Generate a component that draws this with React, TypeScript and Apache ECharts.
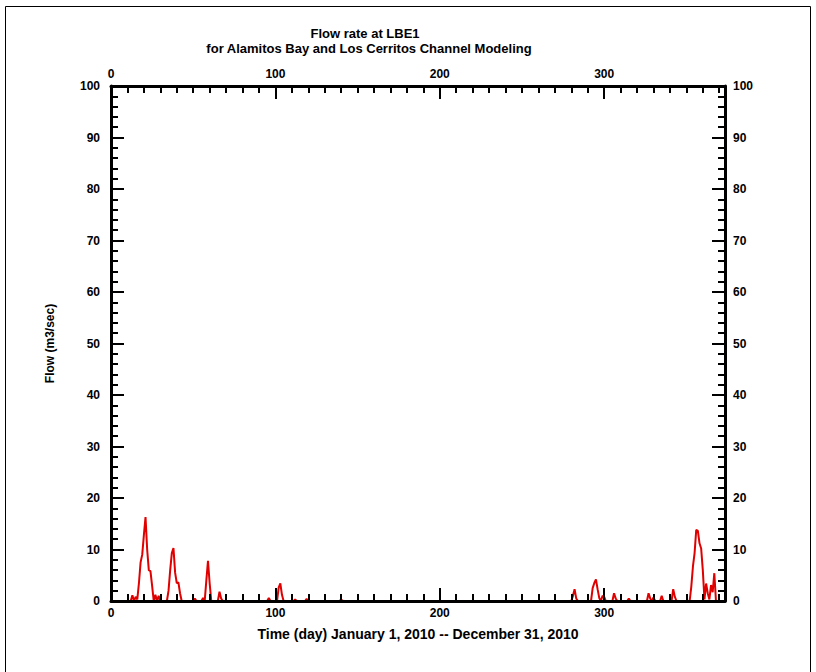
import React, { useEffect, useRef } from 'react';
import * as echarts from 'echarts';

const titleLines = ['Flow rate at LBE1', 'for Alamitos Bay and Los Cerritos Channel Modeling'];
const xAxisName = 'Time (day) January 1, 2010 -- December 31, 2010';
const yAxisName = 'Flow (m3/sec)';

// Daily flow (m3/sec); days not listed are at zero flow
const flowDays = [
  0, 12, 13, 14, 15, 16, 17, 18, 19, 20, 21, 22, 23, 24, 25, 26, 27, 28, 29, 30,
  34, 35, 36, 37, 38, 39, 40, 41, 42, 43,
  50, 51, 52, 55, 56, 57, 58, 59, 60, 61, 65, 66, 67, 68,
  95, 96, 97, 101, 102, 103, 104, 105, 111, 112, 113, 118, 119, 120, 139, 140, 141,
  280, 281, 282, 283, 284, 292, 293, 294, 295, 296, 297, 298, 299, 300, 301,
  305, 306, 307, 308, 314, 315, 316, 326, 327, 328, 329, 330, 331, 334, 335, 336,
  341, 342, 343, 344,
  352, 353, 354, 355, 356, 357, 358, 359, 360, 361, 362, 363, 364, 365, 366, 367, 368,
];
const flowValues = [
  0, 0, 1.1, 0, 0.8, 0.3, 3.5, 7.5, 9.0, 12.8, 16.3, 10.0, 6.0, 5.8, 3.0, 0, 1.2, 0, 1.0, 0,
  0, 2.0, 6.0, 9.3, 10.3, 5.5, 3.5, 3.6, 1.5, 0,
  0, 0.5, 0, 0, 0.6, 0, 4.0, 7.8, 3.5, 0, 0, 1.8, 0.5, 0,
  0, 0.6, 0, 0, 2.6, 3.4, 1.2, 0, 0, 0.3, 0, 0, 0.4, 0, 0, 0.3, 0,
  0, 1.0, 2.3, 0.5, 0, 0, 2.5, 3.5, 4.2, 2.3, 0.6, 0, 1.0, 0.8, 0,
  0, 1.5, 0.5, 0, 0, 0.5, 0, 0, 1.5, 0.5, 0, 0.7, 0, 0, 1.0, 0,
  0, 2.3, 0.8, 0,
  0, 2.8, 6.7, 9.3, 13.8, 13.6, 11.2, 10.2, 6.0, 0.3, 3.4, 1.5, 0.3, 3.1, 1.7, 5.4, 0,
];

const xMin = 0;
const xMax = 373.5;
const xMajor = 100;
const xMinor = 10;
const yMin = 0;
const yMax = 100;
const yMajor = 10;

const FONT = "'Liberation Sans', Arial, sans-serif";

export default function App() {
  const ref = useRef<HTMLDivElement>(null);

  useEffect(() => {
    document.body.style.margin = '0';
    if (!ref.current) return;
    const chart = echarts.init(ref.current, undefined, { renderer: 'svg' });

    const labelStyle = {
      color: '#000',
      fontFamily: FONT,
      fontWeight: 'bold' as const,
      fontSize: 12,
    };
    const axisLine = { show: true, onZero: false, lineStyle: { color: '#000', width: 3 } };
    const majorTick = { show: true, inside: true, length: 13, lineStyle: { color: '#000', width: 2 } };
    const minorTickX = { show: true, inside: true, length: 7, lineStyle: { color: '#000', width: 2 } };
    const xFmt = (v: number) => (v % xMajor === 0 ? String(v) : '');

    const xBase = { type: 'value', min: xMin, max: xMax, splitLine: { show: false } };

    chart.setOption({
      animation: false,
      backgroundColor: '#fff',
      grid: { left: 111, top: 86, right: 91, bottom: 71, outerBoundsMode: 'none', containLabel: false },
      graphic: [
        {
          type: 'rect',
          shape: { x: 5.5, y: 6.5, width: 805, height: 720 },
          style: { fill: 'none', stroke: '#000', lineWidth: 1 },
          silent: true,
        },
        {
          type: 'text',
          x: 365,
          y: 33,
          style: { text: titleLines[0], fill: '#000', font: `bold 13px ${FONT}`, textAlign: 'center', textVerticalAlign: 'middle' },
        },
        {
          type: 'text',
          x: 369,
          y: 48,
          style: { text: titleLines[1], fill: '#000', font: `bold 13px ${FONT}`, textAlign: 'center', textVerticalAlign: 'middle' },
        },
      ],
      xAxis: [
        {
          ...xBase,
          position: 'bottom',
          interval: xMajor,
          z: 10,
          axisLine,
          axisTick: majorTick,
          axisLabel: { ...labelStyle, margin: 6, formatter: xFmt },
          name: xAxisName,
          nameLocation: 'middle',
          nameGap: 26,
          nameTextStyle: { ...labelStyle, fontSize: 14 },
        },
        {
          ...xBase,
          position: 'bottom',
          interval: xMinor,
          z: 10,
          axisLine: { show: false, onZero: false },
          axisTick: minorTickX,
          axisLabel: { show: false },
        },
        {
          ...xBase,
          position: 'top',
          interval: xMajor,
          z: 10,
          axisLine,
          axisTick: majorTick,
          axisLabel: { ...labelStyle, margin: 6, formatter: xFmt },
        },
        {
          ...xBase,
          position: 'top',
          interval: xMinor,
          z: 10,
          axisLine: { show: false, onZero: false },
          axisTick: minorTickX,
          axisLabel: { show: false },
        },
      ],
      yAxis: [
        {
          type: 'value',
          position: 'left',
          min: yMin,
          max: yMax,
          interval: yMajor,
          z: 10,
          splitLine: { show: false },
          axisLine,
          axisTick: majorTick,
          minorTick: { show: true, splitNumber: 5, length: 7, lineStyle: { color: '#000', width: 2 } },
          axisLabel: { ...labelStyle, margin: 11 },
          name: yAxisName,
          nameLocation: 'middle',
          nameGap: 55,
          nameTextStyle: { ...labelStyle, fontSize: 12 },
        },
        {
          type: 'value',
          position: 'right',
          min: yMin,
          max: yMax,
          interval: yMajor,
          z: 10,
          splitLine: { show: false },
          axisLine,
          axisTick: majorTick,
          minorTick: { show: true, splitNumber: 5, length: 7, lineStyle: { color: '#000', width: 2 } },
          axisLabel: { ...labelStyle, margin: 8 },
        },
      ],
      series: [
        {
          type: 'line',
          xAxisIndex: 0,
          yAxisIndex: 0,
          showSymbol: false,
          symbol: 'none',
          lineStyle: { color: '#e00000', width: 2 },
          data: flowDays.map((d, i) => [d, flowValues[i]]),
        },
      ],
    });

    return () => chart.dispose();
  }, []);

  return <div ref={ref} style={{ width: 816, height: 672 }} />;
}
